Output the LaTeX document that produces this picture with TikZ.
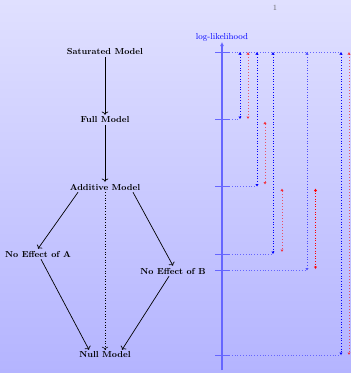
\documentclass[tikz,border=0pt]{standalone}
\usepackage{tikz}
\usetikzlibrary{arrows.meta}
\definecolor{TopLav}{HTML}{E0E0FF}
\definecolor{BotLav}{HTML}{B4B4FF}

\tikzset{
  model/.style={font=\fontsize{8.7}{10}\selectfont\bfseries, inner sep=2pt},
  link/.style={->, line width=0.7pt},
  tick/.style={blue!60, line width=1pt},
  level/.style={blue!60, dotted, line width=0.8pt},
  gap/.style={blue, dotted, line width=0.7pt, {Latex[length=2.5pt,width=3.5pt]}-{Latex[length=2.5pt,width=3.5pt]}},
  redgap/.style={red, dotted, line width=1pt, opacity=0.6, {Latex[length=2.5pt,width=3.5pt]}-{Latex[length=2.5pt,width=3.5pt]}}
}

\begin{document}
\begin{tikzpicture}[x=1pt,y=-1pt]
            \shade[top color=TopLav, bottom color=BotLav] (0,0) rectangle (351,373);
            \useasboundingbox (0,0) rectangle (351,373);
            \node[gray!80!black, font=\fontsize{8}{9}\selectfont] (pagenum) at (275,8) {1};

        % the models
            \node[model] (sat) at (105,52) {Saturated Model};
            \node[model] (full) at (105,120) {Full Model};
            \node[model] (add) at (105,187) {Additive Model};
            \node[model] (noA) at (38,254) {No Effect of A};
            \node[model] (noB) at (173,271) {No Effect of B};
            \node[model] (null) at (105,355) {Null Model};

            \draw[link] (sat) -- (full);
            \draw[link] (full) -- (add);
            \draw[link] ([xshift=-27pt]add.south) -- (noA.north);
            \draw[link] ([xshift=28pt]add.south) -- (noB.north);
            \draw[link] ([xshift=3pt]noA.south) -- ([xshift=-16pt]null.north);
            \draw[link] ([xshift=-4pt]noB.south) -- ([xshift=17pt]null.north);
            \draw[link, dotted, line width=0.6pt] (add) -- (null.north);

        % log-likelihood axis
        \coordinate (axbot) at (222,370);
        \coordinate (axtop) at (222,42);
        \draw[blue!60, line width=1.3pt, -{Latex[length=4pt,width=4pt]}] (axbot) -- (axtop);
        \node[blue, font=\fontsize{8.7}{10}\selectfont, anchor=south, inner sep=1pt] (axlabel) at (axtop) {log-likelihood};

        % levels
        \coordinate (tSat) at (215,52);   \coordinate (eSat) at (341,52);
        \coordinate (tFull) at (215,119); \coordinate (eFull) at (240,119);
        \coordinate (tAdd) at (215,186.5);\coordinate (eAdd) at (257,186.5);
        \coordinate (tA) at (215,254);    \coordinate (eA) at (273,254);
        \coordinate (tB) at (215,270.5);  \coordinate (eB) at (307,270.5);
        \coordinate (tNull) at (215,355); \coordinate (eNull) at (341,355);
        \foreach \l in {Sat,Full,Add,A,B,Null}{
            \draw[tick] (t\l) -- ++(14,0);
            \draw[level] (t\l) -- (e\l);
        }

        % differences to the saturated model
        \draw[gap] (240,52) -- (eFull);
        \draw[gap] (257,52) -- (eAdd);
        \draw[gap] (273,52) -- (eA);
        \draw[gap, blue!70] (307,52) -- (eB);
        \draw[gap] (eSat) -- (eNull);

        % differences between nested models
        \draw[redgap] (248,52) -- (248,119);
        \draw[redgap] (265,121.5) -- (265,184.5);
        \draw[redgap] (282,188.5) -- (282,252);
        \draw[redgap, opacity=1, line width=0.6pt] (315.5,188.5) -- (315.5,269);
        \draw[redgap] (349,52) -- (349,355);
\end{tikzpicture}
\end{document}
